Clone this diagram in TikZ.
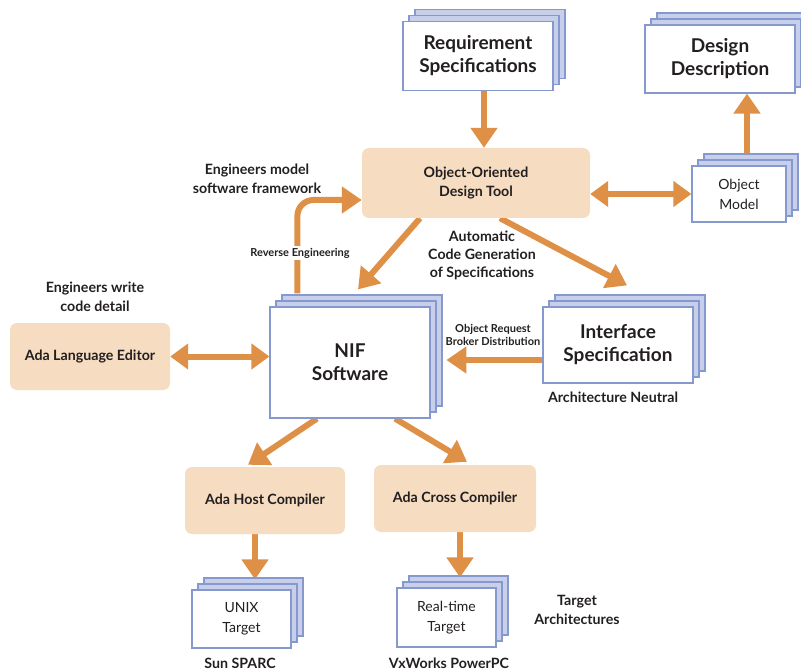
\documentclass[tikz,border=0pt]{standalone}
\usepackage{fontspec}
\setsansfont{Lato}
\usetikzlibrary{arrows.meta,shadows,backgrounds,positioning}
\definecolor{orng}{RGB}{222,145,70}
\definecolor{peach}{RGB}{246,221,193}
\definecolor{edge}{RGB}{133,153,207}
\definecolor{layer}{RGB}{200,207,235}
\definecolor{ink}{RGB}{35,31,32}
\begin{document}
\begin{tikzpicture}[x=1pt, y=-1pt,
  every node/.style={font=\sffamily, text=ink, align=center, inner sep=0pt},
  doc/.style={draw=edge, fill=white, line width=1.2pt, double copy shadow={shadow xshift=6pt, shadow yshift=6pt, fill=layer, draw=edge, line width=1.2pt, opacity=1}},
  tool/.style={fill=peach, rounded corners=7pt},
  big/.style={font=\sffamily\bfseries\fontsize{19}{23}\selectfont},
  mid/.style={font=\sffamily\bfseries\fontsize{14.2}{19}\selectfont},
  plain/.style={font=\sffamily\fontsize{14}{20}\selectfont},
  tiny/.style={font=\sffamily\bfseries\fontsize{11}{13}\selectfont},
  arr/.style={draw=orng, line width=6pt, -{Triangle[width=26pt,length=20pt]}},
  darr/.style={draw=orng, line width=6pt, {Triangle[width=25pt,length=18pt]}-{Triangle[width=25pt,length=18pt]}}]
  \useasboundingbox (0,0) rectangle (801,671);
  \node [doc, big, minimum width=150pt, minimum height=69pt] (req) at (478,56) {Requirement\\Specifications};
  \node [doc, big, minimum width=150pt, minimum height=68pt] (desc) at (720,59) {Design\\Description};
  \node [tool, mid, minimum width=228pt, minimum height=70pt] (ood) at (476,183) {Object-Oriented\\Design Tool};
  \node [doc, plain, minimum width=94pt, minimum height=56pt] (om) at (739,194) {Object\\Model};
  \node [tool, mid, minimum width=160pt, minimum height=67pt] (ale) at (90,356.5) {Ada Language Editor};
  \node [doc, big, minimum width=160pt, minimum height=111pt] (nif) at (350,362.5) {NIF\\Software};
  \node [doc, big, minimum width=150pt, minimum height=76pt] (intf) at (618,345) {Interface\\Specification};
  \node [tool, mid, minimum width=160pt, minimum height=67pt] (host) at (265,500.5) {Ada Host Compiler};
  \node [tool, mid, minimum width=162pt, minimum height=67pt] (cross) at (455,498.5) {Ada Cross Compiler};
  \node [doc, plain, minimum width=99pt, minimum height=58pt] (unix) at (241.5,619) {UNIX\\Target};
  \node [doc, plain, minimum width=99pt, minimum height=59pt] (rt) at (446.5,617.5) {Real-time\\Target};

  \node [mid] (model) at (257,178.5) {Engineers model\\software framework};
  \node [tiny, fill=white, inner sep=2pt] (rev) at (300,253) {Reverse Engineering};
  \node [mid] (write) at (95,296.5) {Engineers write\\code detail};
  \node [mid, font=\sffamily\bfseries\fontsize{14.2}{18}\selectfont] (auto) at (482,255) {Automatic\\Code Generation\\of Specifications};
  \node [tiny] (orb) at (493,334.5) {Object Request\\Broker Distribution};
  \node [mid] (neutral) at (613,397) {Architecture Neutral};
  \node [mid] (sun) at (240,663) {Sun SPARC};
  \node [mid] (vx) at (449,663) {VxWorks PowerPC};
  \node [mid] (targets) at (577,610) {Target\\Architectures};

  \begin{scope}[on background layer]
    \draw [arr] ([xshift=6pt]req.south) -- ([xshift=6pt]req.south |- ood.north);
    \draw [arr] ([xshift=8pt]om.center) -- ([xshift=8pt]om.center |- desc.south);
    \draw [darr] (ood.east |- om.west) -- (om.west);
    \draw [darr] (ale.east) -- (nif.west |- ale.east);
    \draw [arr] ([yshift=-15pt]intf.west) -- ++(-96pt,0);
    \draw [arr, rounded corners=16pt] ([xshift=28pt,yshift=13pt]nif.north west) |- ([yshift=-17pt]ood.west);
    \draw [arr] ([xshift=-56pt]ood.south) -- ([xshift=8pt,yshift=17pt]nif.north);
    \draw [arr] ([xshift=24pt]ood.south) -- ([xshift=9pt,yshift=21pt]intf.north);
    \draw [arr] ([xshift=-33pt]nif.south) -- ([xshift=-17pt,yshift=2pt]host.north);
    \draw [arr] ([xshift=45pt]nif.south) -- ([xshift=12pt,yshift=3pt]cross.north);
    \draw [arr] ([xshift=-10pt]host.south) -- ([xshift=13.5pt,yshift=10pt]unix.north);
    \draw [arr] ([xshift=5pt]cross.south) -- ([xshift=13.5pt,yshift=10pt]rt.north);
  \end{scope}
\end{tikzpicture}
\end{document}
